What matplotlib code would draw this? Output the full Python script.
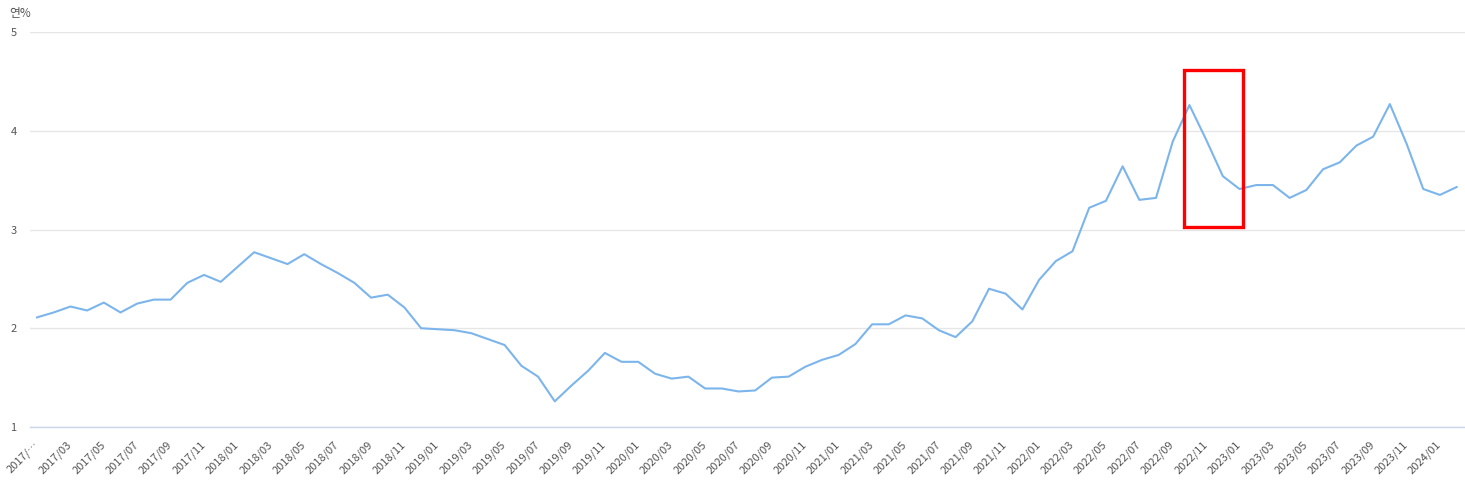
import numpy as np
import matplotlib
matplotlib.use("Agg")
import matplotlib.pyplot as plt
import matplotlib.transforms as mtransforms
from matplotlib.patches import Rectangle

plt.rcParams['font.family'] = ['Noto Sans CJK KR', 'DejaVu Sans']

# monthly rate, 2017/01 .. 2024/02 (연%)
months = []
for yr in range(2017, 2025):
    for mo in range(1, 13):
        if yr == 2024 and mo > 2:
            break
        months.append(f"{yr}/{mo:02d}")

rates = [
    2.11, 2.16, 2.22, 2.18, 2.26, 2.16, 2.25, 2.29, 2.29, 2.46, 2.54, 2.47,  # 2017
    2.62, 2.77, 2.71, 2.65, 2.75, 2.65, 2.56, 2.46, 2.31, 2.34, 2.21, 2.00,  # 2018
    1.99, 1.98, 1.95, 1.89, 1.83, 1.62, 1.51, 1.26, 1.42, 1.57, 1.75, 1.66,  # 2019
    1.66, 1.54, 1.49, 1.51, 1.39, 1.39, 1.36, 1.37, 1.50, 1.51, 1.61, 1.68,  # 2020
    1.73, 1.84, 2.04, 2.04, 2.13, 2.10, 1.98, 1.91, 2.07, 2.40, 2.35, 2.19,  # 2021
    2.49, 2.68, 2.78, 3.22, 3.29, 3.64, 3.30, 3.32, 3.89, 4.26, 3.91, 3.54,  # 2022
    3.41, 3.45, 3.45, 3.32, 3.40, 3.61, 3.68, 3.85, 3.94, 4.27, 3.87, 3.41,  # 2023
    3.35, 3.43,                                                              # 2024
]

# highlighted window (index range / value range)
box_x = (68.7, 72.2)
box_y = (3.03, 4.62)

x = np.arange(len(rates))

fig = plt.figure(figsize=(14.65, 4.96), dpi=100)
ax = fig.add_axes([30 / 1465, 1 - 427 / 496, 1435 / 1465, 395 / 496])

ax.plot(x, rates, color='#7cb5ec', lw=1.5, solid_joinstyle='round')

ax.add_patch(Rectangle((box_x[0], box_y[0]), box_x[1] - box_x[0], box_y[1] - box_y[0],
                       fill=False, edgecolor='#ff0000', lw=2.4, zorder=5, clip_on=False))

ax.set_xlim(-0.42, 85.5)
ax.set_ylim(1, 5)
ax.set_yticks([1, 2, 3, 4, 5])
ax.grid(axis='y', color='#e6e6e6', lw=1)
ax.set_axisbelow(True)

ticks = x[::2]
labels = [months[i] for i in ticks]
labels[0] = '2017/…'
ax.set_xticks(ticks)
ax.set_xticklabels(labels, rotation=45, ha='right', va='top', rotation_mode='anchor',
                   fontsize=8, color='#555555')
ax.tick_params(axis='x', length=0, pad=6)
shift = mtransforms.ScaledTranslation(-4 / 100, -4 / 100, fig.dpi_scale_trans)
for lab in ax.get_xticklabels():
    lab.set_transform(lab.get_transform() + shift)

ax.tick_params(axis='y', length=0, pad=14, labelsize=8, labelcolor='#555555')
for lab in ax.get_yticklabels():
    lab.set_horizontalalignment('left')

for side in ['top', 'right', 'left']:
    ax.spines[side].set_visible(False)
ax.spines['bottom'].set_color('#ccd6eb')
ax.spines['bottom'].set_linewidth(1)

fig.text(9 / 1465, 1 - 14 / 496, '연%', fontsize=8.5, color='#555555', va='center', ha='left')

fig.savefig('out.png', dpi=100, facecolor='white')
